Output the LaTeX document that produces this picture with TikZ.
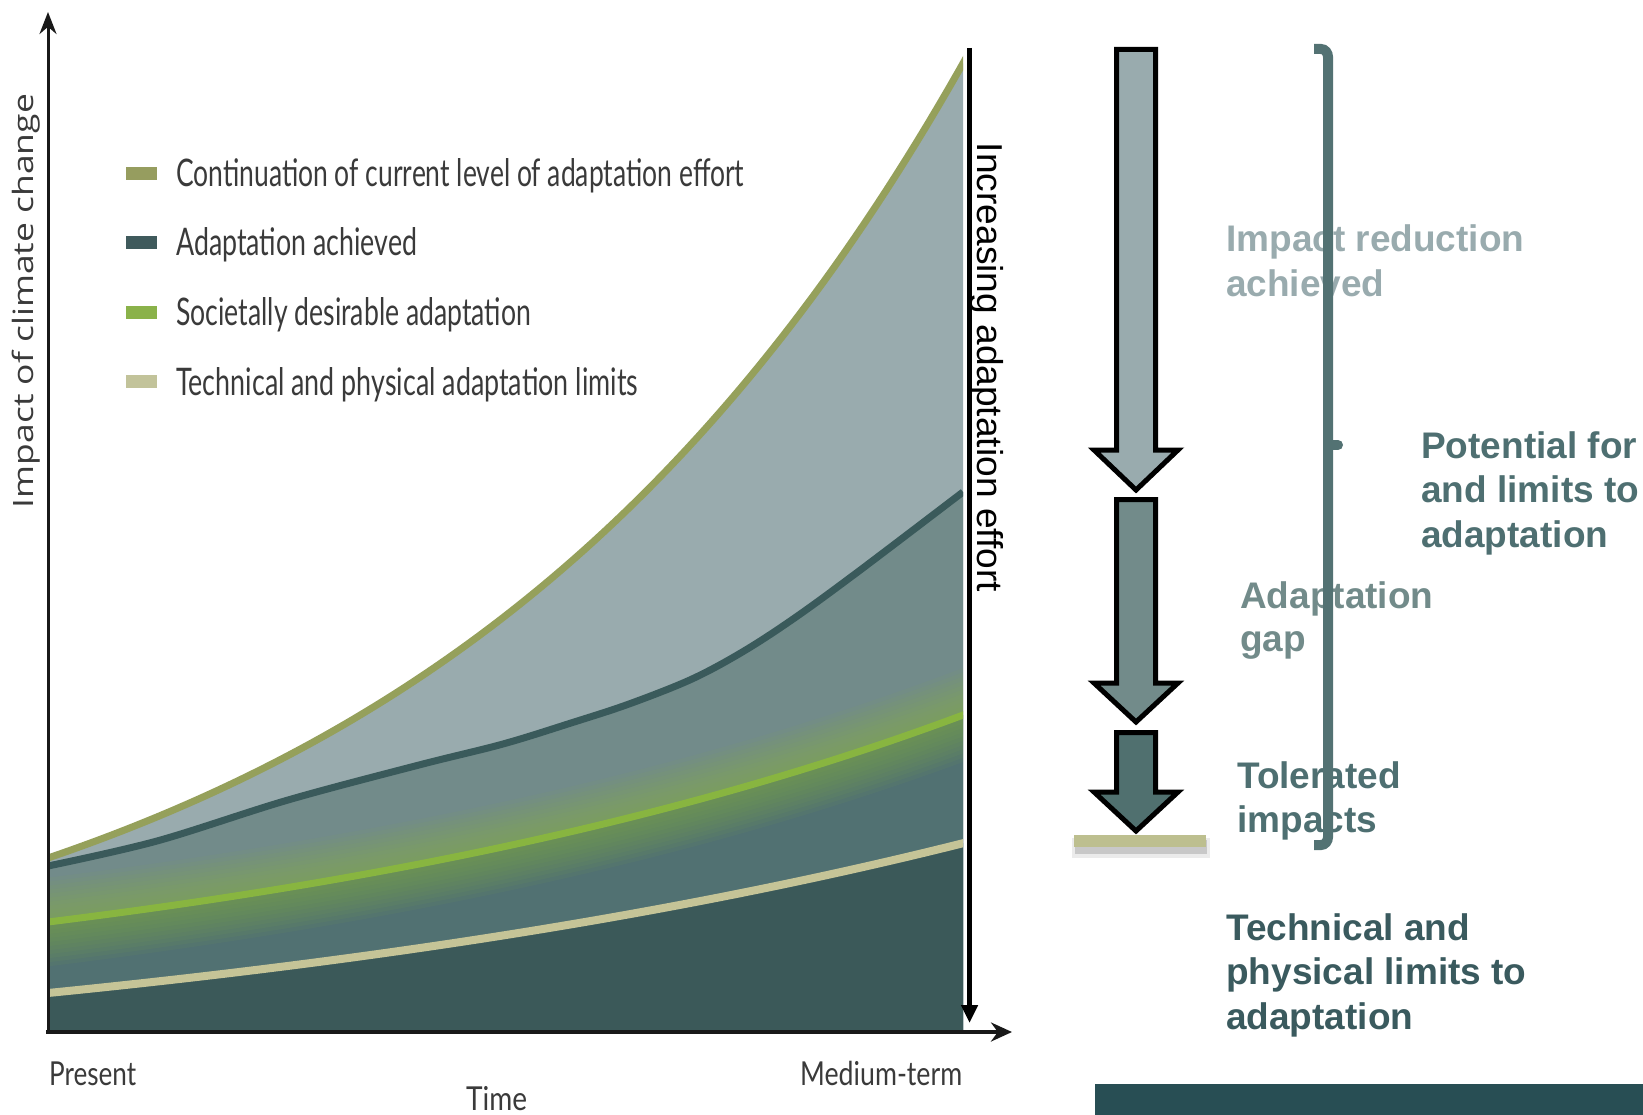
\documentclass[tikz,border=0pt]{standalone}
\usepackage{fontspec}
\usepackage{graphicx}
\usetikzlibrary{arrows.meta}
\newfontfamily\arialf{Liberation Sans}
\newfontfamily\legf{Lato}
\newfontfamily\osf{Open Sans}
\definecolor{cLight}{HTML}{99ABAE}
\definecolor{cMid}{HTML}{728B8A}
\definecolor{cLow}{HTML}{517172}
\definecolor{cArrowLow}{HTML}{50706F}
\definecolor{cDark}{HTML}{3B5959}
\definecolor{lOlive}{HTML}{95A05B}
\definecolor{lTeal}{HTML}{3A5A5B}
\definecolor{lGreen}{HTML}{88B540}
\definecolor{lBeige}{HTML}{C5C497}
\definecolor{barBeige}{HTML}{BDBF8F}
\definecolor{sqOlive}{HTML}{969D5F}
\definecolor{sqDark}{HTML}{3F5A5C}
\definecolor{sqGreen}{HTML}{8AB24A}
\definecolor{sqBeige}{HTML}{C2C39A}
\definecolor{brk}{HTML}{537273}
\definecolor{tPot}{HTML}{4E6F71}
\definecolor{tTech}{HTML}{3A5A5E}
\definecolor{bottomBar}{HTML}{284E54}
\definecolor{legText}{HTML}{3A3A3A}
\tikzset{
  legsq/.style={minimum width=31pt,minimum height=13pt,inner sep=0pt,draw=none},
  legtxt/.style={anchor=base west,inner sep=0pt,text=legText,font=\legf\fontsize{38}{40}\selectfont},
  axtxt/.style={anchor=base west,inner sep=0pt,text=legText,font=\legf\fontsize{33}{36}\selectfont},
  rtxt/.style={anchor=base west,inner sep=0pt,font=\arialf\bfseries\fontsize{37}{44}\selectfont},
  blockarrow/.style={draw=black,line width=5pt,line join=miter,miter limit=10},
  bracketline/.style={draw=brk,line width=10pt},
  axisline/.style={draw=black!90}
}
\begin{document}
\begin{tikzpicture}[x=1pt,y=-1pt]
\useasboundingbox (0,0) rectangle (1643,1115);
% ---------- chart regions
\fill[cLight] (48,1032) -- plot[domain=48:963,samples=90] (\x,{1047.5-189.5*exp(0.0018*(\x-48))}) -- (963,1032) -- cycle;
\fill[cMid] (48,1032) -- plot[smooth,tension=0.55] coordinates {(48,866) (157,841) (288,800) (419,765) (503,744) (571,723) (629,704) (692,679) (744,651) (796,617) (859,571) (963,492)} -- (963,1032) -- cycle;
\fill[cLow] (48,1032) -- plot[domain=48:963,samples=60] (\x,{1024.8-102.8*exp(0.0012*(\x-48))}) -- (963,1032) -- cycle;
\begin{scope}
\clip (48,0) rectangle (963,1032);
\foreach \w in {88,80,72,64,56,48,40,32,24,16}{
  \draw[lGreen,line width=\w pt,opacity=0.065] plot[domain=30:980,samples=60] (\x,{1024.8-102.8*exp(0.0012*(\x-48))});
}
\end{scope}
\fill[cDark] (48,1032) -- plot[domain=48:963,samples=60] (\x,{1092-99*exp(0.001*(\x-48))}) -- (963,1032) -- cycle;
% ---------- chart lines
\begin{scope}
\clip (48,0) rectangle (963,1032);
\draw[lBeige,line width=8pt] plot[domain=40:970,samples=60] (\x,{1092-99*exp(0.001*(\x-48))});
\draw[lGreen,line width=7pt] plot[domain=40:970,samples=60] (\x,{1024.8-102.8*exp(0.0012*(\x-48))});
\draw[lTeal,line width=7pt] plot[smooth,tension=0.55] coordinates {(48,866) (157,841) (288,800) (419,765) (503,744) (571,723) (629,704) (692,679) (744,651) (796,617) (859,571) (963,492)};
\draw[lOlive,line width=7pt] plot[domain=40:970,samples=90] (\x,{1047.5-189.5*exp(0.0018*(\x-48))});
\end{scope}
% ---------- axes
\coordinate (orig) at (48,1032);
\coordinate (ytop) at (48,12);
\coordinate (xleft) at (46,1032);
\coordinate (xright) at (1012,1032);
\coordinate (effTop) at (969.5,48);
\coordinate (effBot) at (969.5,1023);
\draw[axisline,line width=3pt,-{Stealth[length=22pt,width=17pt]}] (orig) -- (ytop);
\draw[axisline,line width=4pt,-{Stealth[length=21pt,width=19pt]}] (xleft) -- (xright);
\draw[black,line width=5pt,-{Triangle[length=18pt,width=16pt]}] (effTop) -- (effBot);
% ---------- axis texts
\node[rotate=90,anchor=base,inner sep=0pt,text=legText,font=\osf\fontsize{28}{30}\selectfont] (ylab) at (33,301) {\resizebox{414pt}{\height}{Impact of climate change}};
\node[rotate=-90,anchor=base,inner sep=0pt,font=\arialf\fontsize{36}{40}\selectfont] (efflab) at (977,367.5) {\resizebox{449pt}{\height}{Increasing adaptation effort}};
\node[axtxt] (present) at (49,1085) {\resizebox{87pt}{\height}{Present}};
\node[axtxt] (medium) at (800,1085) {\resizebox{162pt}{\height}{Medium-term}};
\node[axtxt] (time) at (466,1110) {\resizebox{61pt}{\height}{Time}};
% ---------- legend
\node[legsq,fill=sqOlive] (sq1) at (141.5,173.5) {};
\node[legsq,fill=sqDark] (sq2) at (141.5,242.5) {};
\node[legsq,fill=sqGreen] (sq3) at (141.5,312) {};
\node[legsq,fill=sqBeige] (sq4) at (141.5,381.5) {};
\node[legtxt] (leg1) at (176,187) {\resizebox{568pt}{\height}{Continuation of current level of adaptation effort}};
\node[legtxt] (leg2) at (176,256) {\resizebox{241pt}{\height}{Adaptation achieved}};
\node[legtxt] (leg3) at (176,326) {\resizebox{355pt}{\height}{Societally desirable adaptation}};
\node[legtxt] (leg4) at (176,395) {\resizebox{462pt}{\height}{Technical and physical adaptation limits}};
% ---------- right panel arrows
\draw[blockarrow,fill=cLight] (1116.5,49.5) -- (1155.5,49.5) -- (1155.5,450) -- (1178,450) -- (1136,490) -- (1094,450) -- (1116.5,450) -- cycle;
\draw[blockarrow,fill=cMid] (1116.5,499.5) -- (1155.5,499.5) -- (1155.5,683) -- (1178,683) -- (1136,722) -- (1094,683) -- (1116.5,683) -- cycle;
\draw[blockarrow,fill=cArrowLow] (1116.5,732.5) -- (1155.5,732.5) -- (1155.5,792) -- (1178,792) -- (1136,831) -- (1094,792) -- (1116.5,792) -- cycle;
% limit bar with shadow
\fill[black,opacity=0.08] (1072,838) rectangle (1210,858);
\fill[black,opacity=0.15] (1075,840) rectangle (1207,854);
\fill[barBeige] (1074,835) rectangle (1206,847);
% ---------- right panel texts
\node[rtxt,text=cLight] (ir1) at (1226,252) {Impact reduction};
\node[rtxt,text=cLight] (ir2) at (1226,296) {achieved};
\node[rtxt,text=tPot] (pl1) at (1421,458) {Potential for};
\node[rtxt,text=tPot] (pl2) at (1421,502) {and limits to};
\node[rtxt,text=tPot] (pl3) at (1421,547) {adaptation};
\node[rtxt,text=cMid] (ag1) at (1240,608) {Adaptation};
\node[rtxt,text=cMid] (ag2) at (1240,651) {gap};
\node[rtxt,text=tPot] (ti1) at (1237,788) {Tolerated};
\node[rtxt,text=tPot] (ti2) at (1237,832) {impacts};
\node[rtxt,text=tTech] (tp1) at (1226,940) {Technical and};
\node[rtxt,text=tTech] (tp2) at (1226,984) {physical limits to};
\node[rtxt,text=tTech] (tp3) at (1226,1029) {adaptation};
% ---------- bracket
\draw[bracketline] (1314,49) -- (1321,49) to[out=0,in=90] (1328,57) -- (1328,837) to[out=-90,in=0] (1321,845) -- (1314,845);
\draw[bracketline,line cap=round] (1328,445) -- (1338,445);
% ---------- bottom bar
\fill[bottomBar] (1095,1084) rectangle (1643,1115);
\end{tikzpicture}
\end{document}
